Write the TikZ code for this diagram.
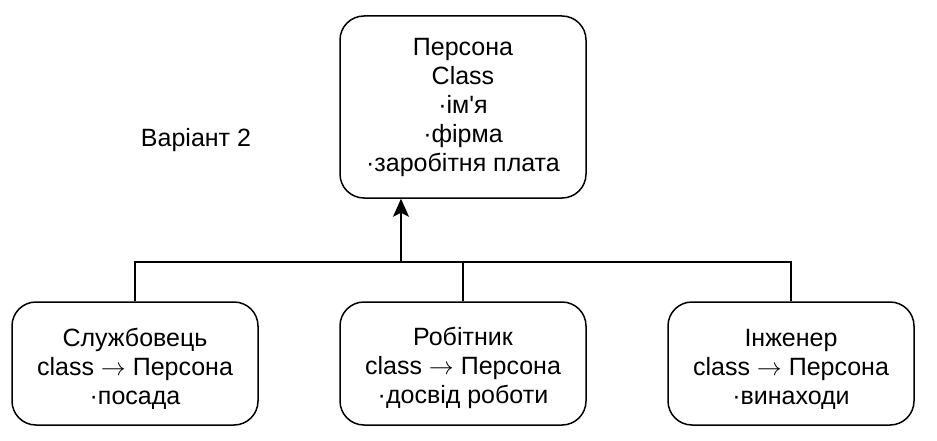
\documentclass[tikz,border=0pt]{standalone}
\usepackage{fontspec}
\setmainfont{Liberation Sans}[Ligatures=TeXOff]
\usetikzlibrary{positioning, calc, arrows.meta}
\definecolor{dgLine}{HTML}{000000}
\definecolor{dgText}{HTML}{000000}
\newcommand{\inh}{$\rightarrow$}
\newcommand{\toplift}{\rule{0pt}{28pt}}

\begin{document}
\begin{tikzpicture}[x=1pt, y=-1pt,
	clsBox/.style={draw=dgLine, rounded corners=24pt, line width=1.5pt,
		minimum width=246pt, align=center, text=dgText,
		font=\fontsize{25}{29}\selectfont},
	link/.style={draw=dgLine, line width=1.5pt}]
	\useasboundingbox (0,0) rectangle (937,441);
	% base class
	\node[clsBox, minimum height=182pt] (persona) at (463,107)
		{Персона\\Class\\·ім'я\\·фірма\\·заробітня плата};
	\node[font=\fontsize{25}{29}\selectfont] (variant) at (196,140) {Варіант 2};
	% derived classes
	\node[clsBox, minimum height=123pt] (sluzh) at (135,363.5)
		{\toplift Службовець\\class \inh{} Персона\\·посада};
	\node[clsBox, minimum height=123pt] (robit) at (463,363.5)
		{\toplift Робітник\\class \inh{} Персона\\·досвід роботи};
	\node[clsBox, minimum height=123pt] (inzh) at (791,363.5)
		{\toplift Інженер\\class \inh{} Персона\\·винаходи};
	% inheritance connectors
	\coordinate (junc) at (401,262);
	\draw[link] (sluzh.north) |- (inzh.north |- junc) -- (inzh.north);
	\draw[link] (robit.north) -- (robit.north |- junc);
	\draw[link, -{Stealth[length=18pt, width=16pt, inset=4pt]}]
		(junc) -- (persona.south -| junc);
\end{tikzpicture}
\end{document}
